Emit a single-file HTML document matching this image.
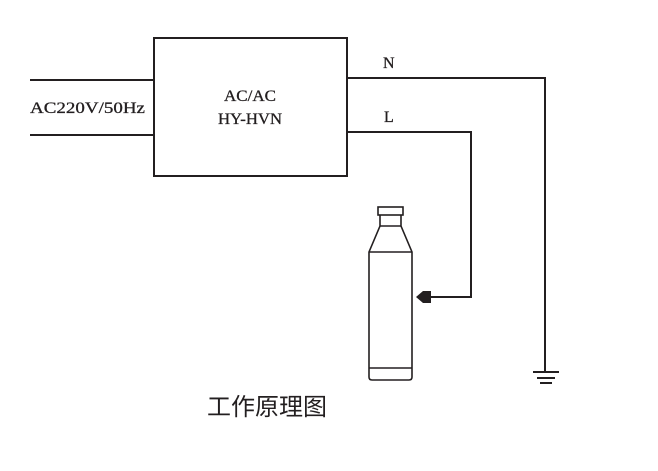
<!DOCTYPE html>
<html><head><meta charset="utf-8"><style>
html,body{margin:0;padding:0;background:#fff;width:658px;height:471px;overflow:hidden}
</style></head><body>
<svg width="658" height="471" viewBox="0 0 658 471" xmlns="http://www.w3.org/2000/svg">
<g stroke="#231f20" stroke-width="2" fill="none">
<rect x="154" y="38" width="193" height="138"/>
<line x1="30" y1="80" x2="154" y2="80"/>
<line x1="30" y1="135" x2="154" y2="135"/>
<polyline points="347,78 545,78 545,372"/>
<polyline points="347,132 471,132 471,297 428,297"/>
<line x1="533" y1="372" x2="559" y2="372"/>
<line x1="537" y1="378" x2="555" y2="378"/>
<line x1="540" y1="383" x2="552" y2="383"/>
<g stroke-width="1.6">
<rect x="378" y="207" width="25" height="8"/>
<path d="M380,215 V226 L369,252 V368 M401,215 V226 L412,252 V368 M369,252 H412 M369,368 H412 M369,368 V377 Q369,380 372,380 H409 Q412,380 412,377 V368"/>
<line x1="380" y1="226" x2="401" y2="226"/>
</g>
</g>
<path d="M416,297 L423,291 H431 V303 H423 Z" fill="#231f20"/>
<g font-family="Liberation Serif, serif" font-size="16" fill="#231f20" stroke="#231f20" stroke-width="0.3">
<text x="30" y="113" textLength="115" lengthAdjust="spacingAndGlyphs">AC220V/50Hz</text>
<text x="224" y="101" textLength="52" lengthAdjust="spacingAndGlyphs">AC/AC</text>
<text x="218" y="124" textLength="64" lengthAdjust="spacingAndGlyphs">HY-HVN</text>
<text x="383" y="68">N</text>
<text x="384" y="122">L</text>
</g>
<text x="207" y="415" textLength="120" lengthAdjust="spacingAndGlyphs" font-family="Liberation Sans, Noto Sans CJK SC, sans-serif" font-size="24" fill="#231f20">工作原理图</text>
</svg>
</body></html>
